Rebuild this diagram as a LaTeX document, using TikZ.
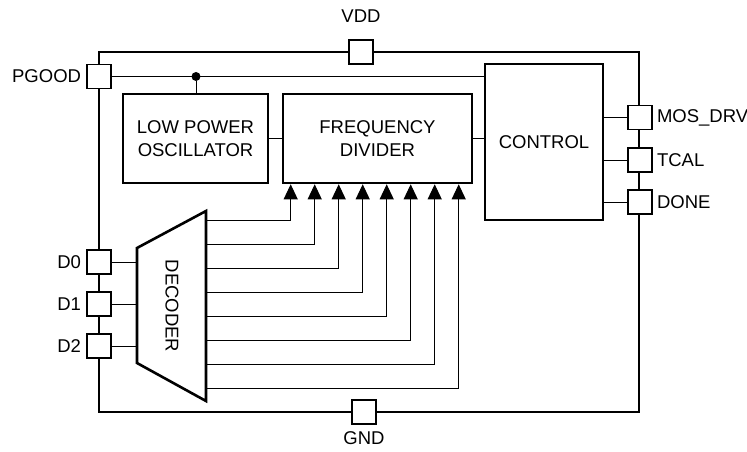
\documentclass[tikz,border=0pt]{standalone}
\usepackage{fontspec}
\setmainfont{Liberation Sans}
\usetikzlibrary{arrows.meta, positioning}

\begin{document}
\begin{tikzpicture}[
        x=1pt, y=-1pt,
        font=\fontsize{18.5}{22.5}\selectfont,
        block/.style={rectangle, draw, line width=2.6pt, align=center, inner sep=0pt},
        outline/.style={line width=2.6pt},
        pad/.style={rectangle, draw, fill=white, line width=1.6pt, minimum size=24pt, inner sep=0pt},
        padlabel/.style={inner sep=0pt},
        wire/.style={line width=1pt},
        bus/.style={line width=1pt, -{Triangle[length=15pt, width=14pt]}},
        dot/.style={circle, fill, minimum size=9pt, inner sep=0pt}
    ]
        \useasboundingbox (0,0) rectangle (747,452);

        % Package outline
        \draw[outline] (99,52) rectangle (639,412);

        % Blocks
        \node[block, minimum width=145pt, minimum height=89pt] (osc) at (195.5,138.5) {LOW POWER\\OSCILLATOR};
        \node[block, minimum width=189pt, minimum height=89pt] (div) at (377.5,138.5) {FREQUENCY\\DIVIDER};
        \node[block, minimum width=118pt, minimum height=156pt] (ctrl) at (544,142) {CONTROL};

        % Decoder
        \draw[outline] (137,248) -- (206,211) -- (206,401) -- (137,363) -- cycle;
        \node[rotate=-90] (dec) at (172,306) {DECODER};
        \coordinate (decin) at (137,306);
        \coordinate (decout) at (206,220);

        % Pads
        \node[pad] (vdd) at (361,52) {};
        \node[pad] (gnd) at (364,412) {};
        \node[pad] (pgood) at (99,76.5) {};
        \node[pad] (d0) at (99,262) {};
        \node[pad] (d1) at (99,304) {};
        \node[pad] (d2) at (99,346) {};
        \node[pad] (mos) at (640,117.5) {};
        \node[pad] (tcal) at (640,160) {};
        \node[pad] (done) at (640,202) {};

        \node[padlabel, above=16pt of vdd] (vddlabel) {VDD};
        \node[padlabel, below=7pt of gnd] (gndlabel) {GND};
        \node[padlabel, left=5pt of pgood] (pgoodlabel) {PGOOD};
        \node[padlabel, left=5pt of d0] (d0label) {D0};
        \node[padlabel, left=5pt of d1] (d1label) {D1};
        \node[padlabel, left=5pt of d2] (d2label) {D2};
        \node[padlabel, right=4pt of mos] (moslabel) {MOS\_DRV};
        \node[padlabel, right=4pt of tcal] (tcallabel) {TCAL};
        \node[padlabel, right=4pt of done] (donelabel) {DONE};

        % Connections
        \draw[wire] (pgood.east) -- (pgood -| ctrl.west);
        \node[dot] (tap) at (196,76.5) {};
        \draw[wire] (tap) -- (tap |- osc.north);
        \draw[wire] (osc) -- (div);
        \draw[wire] (div.east) -- (div.east -| ctrl.west);
        \foreach \p in {mos, tcal, done}
            \draw[wire] (\p.west -| ctrl.east) -- (\p.west);
        \foreach \p in {d0, d1, d2}
            \draw[wire] (\p.east) -- (\p -| decin);

        % Divider select lines
        \foreach \i in {0,...,7}
            \draw[bus] ([yshift={-24pt*\i}]decout) -| ([xshift={9pt+24pt*\i}]div.south west);

    \end{tikzpicture}
\end{document}
